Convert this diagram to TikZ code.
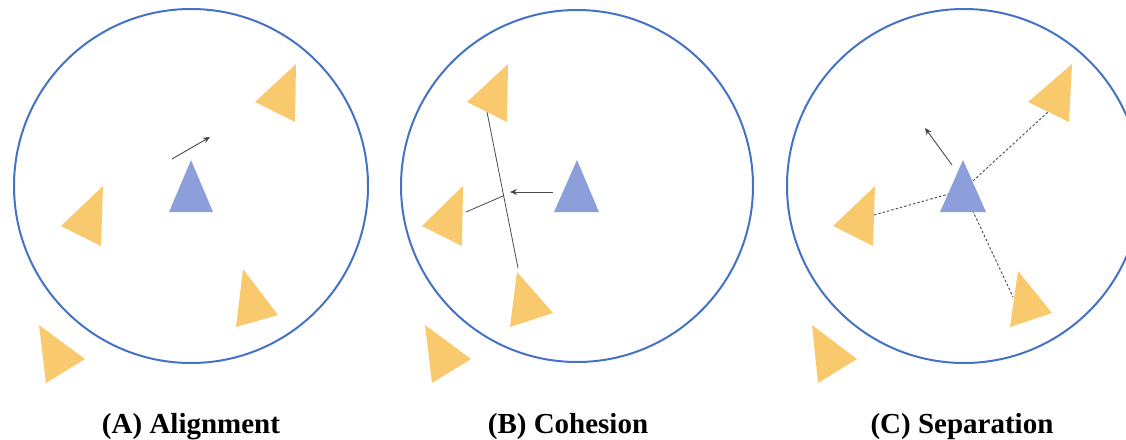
\documentclass[tikz,border=0pt]{standalone}
\usepackage{fontspec}
\setmainfont{Liberation Serif}
\usetikzlibrary{arrows.meta}
\definecolor{ringblue}{HTML}{4472C4}
\definecolor{boidyellow}{HTML}{F9C96E}
\definecolor{boidblue}{HTML}{8C9FDB}
\definecolor{linkgray}{HTML}{4A4A4A}
\tikzset{
  ring/.style={draw=ringblue, line width=2pt},
  yboid/.style={fill=boidyellow, draw=none},
  bboid/.style={fill=boidblue, draw=none},
  headingarrow/.style={draw=linkgray, line width=0.9pt, -{Stealth[length=7pt,width=6pt,fill=black]}},
  linkline/.style={draw=linkgray, line width=0.8pt},
  dashline/.style={draw=linkgray, line width=0.9pt, dash pattern=on 2.5pt off 2pt},
  caption/.style={font=\bfseries\fontsize{29}{34}\selectfont, anchor=base}
}
\begin{document}
\begin{tikzpicture}[x=1pt,y=-1pt]
\useasboundingbox (0,0) rectangle (1126,439);
\clip (0,0) rectangle (1126,439);

% ---------- Panel A ----------
\coordinate (cA) at (191,186);
\draw[ring] (cA) circle[radius=177];
\fill[yboid] (296,64) -- (255,102) -- (295,122) -- cycle;
\fill[yboid] (103,186) -- (61,226) -- (101,246) -- cycle;
\fill[yboid] (243,269) -- (236,327) -- (278,315) -- cycle;
\fill[yboid] (39,325) -- (46,383) -- (85,359) -- cycle;
\fill[bboid] (191,160) -- (169,212) -- (213,212) -- cycle;
\coordinate (aA0) at (172,159);
\coordinate (aA1) at (210,137);
\draw[headingarrow] (aA0) -- (aA1);
\node[caption] (capA) at (191,433) {(A) Alignment};

% ---------- Panel B ----------
\coordinate (cB) at (577,186);
\draw[ring] (cB) circle[radius=176];
\coordinate (bT1) at (487,112);
\coordinate (bT3) at (518,268);
\coordinate (bT2) at (466,212);
\coordinate (bM) at (503,196);
\draw[linkline] (bT1) -- (bT3);
\draw[linkline] (bT2) -- (bM);
\fill[yboid] (508,64) -- (467,102) -- (507,122) -- cycle;
\fill[yboid] (463,186) -- (422,226) -- (462,246) -- cycle;
\fill[yboid] (517,272) -- (510,327) -- (553,313) -- cycle;
\fill[yboid] (425,325) -- (432,383) -- (471,359) -- cycle;
\fill[bboid] (577,160) -- (554,212) -- (599,212) -- cycle;
\coordinate (aB0) at (553,192);
\coordinate (aB1) at (510,192);
\draw[headingarrow] (aB0) -- (aB1);
\node[caption] (capB) at (568,433) {(B) Cohesion};

% ---------- Panel C ----------
\coordinate (cC) at (964,186);
\draw[ring] (cC) circle[radius=177];
\coordinate (cMid) at (963,190);
\coordinate (cT1) at (1048,112);
\coordinate (cT2) at (874,215);
\coordinate (cT3) at (1013,297);
\draw[dashline] (cMid) -- (cT1);
\draw[dashline] (cMid) -- (cT2);
\draw[dashline] (cMid) -- (cT3);
\fill[yboid] (1072,64) -- (1028,102) -- (1069,122) -- cycle;
\fill[yboid] (875,186) -- (833,226) -- (873,246) -- cycle;
\fill[yboid] (1018,271) -- (1010,327) -- (1052,313) -- cycle;
\fill[yboid] (812,325) -- (818,383) -- (857,359) -- cycle;
\fill[bboid] (963,160) -- (940,212) -- (986,212) -- cycle;
\coordinate (aC0) at (952,165);
\coordinate (aC1) at (925,128);
\draw[headingarrow] (aC0) -- (aC1);
\node[caption] (capC) at (962,433) {(C) Separation};
\end{tikzpicture}
\end{document}
